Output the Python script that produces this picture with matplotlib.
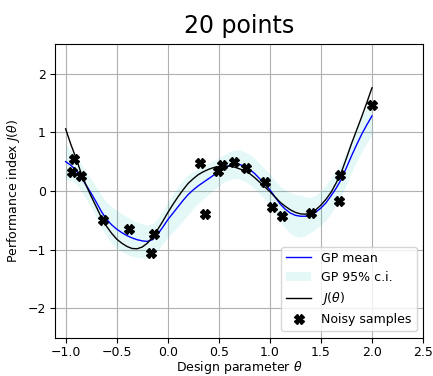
import matplotlib
matplotlib.use("Agg")
import matplotlib.pyplot as plt

theta = [-1.00, -0.95, -0.90, -0.85, -0.80, -0.75, -0.70, -0.65, -0.60, -0.55,
         -0.50, -0.45, -0.40, -0.35, -0.30, -0.25, -0.20, -0.15, -0.10, -0.05,
         0.00, 0.05, 0.10, 0.15, 0.20, 0.25, 0.30, 0.35, 0.40, 0.45,
         0.50, 0.55, 0.60, 0.65, 0.70, 0.75, 0.80, 0.85, 0.90, 0.95,
         1.00, 1.05, 1.10, 1.15, 1.20, 1.25, 1.30, 1.35, 1.40, 1.45,
         1.50, 1.55, 1.60, 1.65, 1.70, 1.75, 1.80, 1.85, 1.90, 1.95, 2.00]

# true performance index J(theta)
j_true = [1.06, 0.80, 0.57, 0.31, 0.10, -0.09, -0.27, -0.45, -0.60, -0.72,
          -0.82, -0.89, -0.945, -0.98, -0.985, -0.955, -0.89, -0.79, -0.66, -0.52,
          -0.37, -0.23, -0.10, 0.02, 0.13, 0.21, 0.28, 0.33, 0.37, 0.40,
          0.415, 0.425, 0.425, 0.41, 0.38, 0.345, 0.30, 0.23, 0.15, 0.07,
          -0.01, -0.10, -0.19, -0.26, -0.32, -0.365, -0.39, -0.395, -0.375, -0.32,
          -0.24, -0.14, -0.02, 0.14, 0.32, 0.56, 0.81, 1.04, 1.27, 1.51, 1.76]

# GP posterior mean
gp_mean = [0.50, 0.44, 0.36, 0.24, 0.10, -0.04, -0.19, -0.35, -0.48, -0.575,
           -0.65, -0.71, -0.76, -0.80, -0.83, -0.85, -0.86, -0.83, -0.74, -0.62,
           -0.49, -0.38, -0.27, -0.16, -0.06, 0.02, 0.09, 0.15, 0.21, 0.27,
           0.33, 0.385, 0.43, 0.455, 0.455, 0.42, 0.37, 0.30, 0.21, 0.12,
           0.02, -0.10, -0.22, -0.31, -0.375, -0.415, -0.43, -0.43, -0.41, -0.36,
           -0.29, -0.20, -0.08, 0.05, 0.20, 0.40, 0.60, 0.79, 0.97, 1.13, 1.28]

# GP 95% confidence interval bounds
ci_upper = [0.80, 0.70, 0.60, 0.47, 0.33, 0.20, 0.07, -0.07, -0.19, -0.265,
            -0.33, -0.39, -0.44, -0.49, -0.53, -0.56, -0.58, -0.56, -0.47, -0.34,
            -0.19, -0.06, 0.07, 0.19, 0.28, 0.34, 0.39, 0.43, 0.48, 0.52,
            0.57, 0.615, 0.67, 0.695, 0.705, 0.67, 0.63, 0.56, 0.47, 0.38,
            0.29, 0.18, 0.08, 0.02, -0.025, -0.055, -0.07, -0.10, -0.11, -0.07,
            0.00, 0.10, 0.22, 0.34, 0.48, 0.68, 0.88, 1.08, 1.27, 1.44, 1.59]
ci_lower = [0.20, 0.18, 0.12, 0.01, -0.13, -0.28, -0.45, -0.63, -0.77, -0.885,
            -0.97, -1.03, -1.08, -1.11, -1.13, -1.14, -1.14, -1.10, -1.01, -0.90,
            -0.79, -0.70, -0.61, -0.51, -0.40, -0.30, -0.21, -0.13, -0.06, 0.02,
            0.09, 0.155, 0.19, 0.215, 0.205, 0.17, 0.11, 0.04, -0.05, -0.14,
            -0.25, -0.38, -0.52, -0.64, -0.725, -0.775, -0.79, -0.76, -0.71, -0.65,
            -0.58, -0.50, -0.38, -0.24, -0.08, 0.12, 0.32, 0.50, 0.67, 0.82, 0.97]

# noisy samples
sample_theta = [-0.918, -0.938, -0.85, -0.638, -0.384, -0.165, -0.13, 0.32, 0.363, 0.493,
                0.53, 0.65, 0.77, 0.95, 1.025, 1.12, 1.40, 1.687, 1.677, 2.0]
sample_j = [0.54, 0.33, 0.255, -0.49, -0.64, -1.065, -0.735, 0.48, -0.39, 0.345,
            0.44, 0.49, 0.40, 0.16, -0.277, -0.42, -0.38, 0.272, -0.17, 1.47]

x_ticks = [-1.0, -0.5, 0.0, 0.5, 1.0, 1.5, 2.0, 2.5]
y_ticks = [-2, -1, 0, 1, 2]

plt.rcParams['font.size'] = 9

fig = plt.figure(figsize=(4.33, 3.76), dpi=100)
ax = fig.add_axes([0.128, 0.102, 0.849, 0.780])

ax.plot(theta, gp_mean, color='b', lw=1, label='GP mean', zorder=3)
ax.fill_between(theta, ci_lower, ci_upper, color='c', alpha=0.1, lw=0,
                label='GP 95% c.i.', zorder=2)
ax.plot(theta, j_true, color='k', lw=1, label=r'$J(\theta)$', zorder=3)
ax.plot(sample_theta, sample_j, 'X', color='k', ms=7, linestyle='none',
        label='Noisy samples', zorder=4)

ax.set_xlim(-1.1, 2.5)
ax.set_ylim(-2.5, 2.5)
ax.set_xticks(x_ticks)
ax.set_yticks(y_ticks)
ax.tick_params(axis='x', pad=2.5)
ax.grid(True)
ax.set_axisbelow(True)

ax.set_xlabel(r'Design parameter $\theta$', labelpad=0)
ax.set_ylabel(r'Performance index $J(\theta)$')
ax.set_title('20 points', fontsize=17, pad=8)
ax.legend(loc='lower right', fontsize=9)

fig.savefig('out.png', dpi=100)
